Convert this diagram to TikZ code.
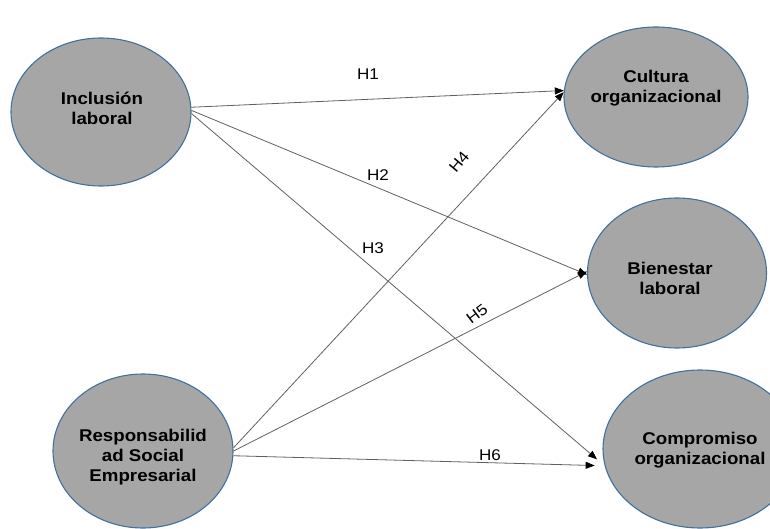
\documentclass[tikz,border=0pt]{standalone}
\usepackage{fontspec}
\setmainfont{Liberation Sans}[FakeStretch=1.1]
\usetikzlibrary{arrows.meta,shapes.geometric}
\definecolor{ovalfill}{HTML}{A6A6A6}
\definecolor{ovalline}{HTML}{41719C}
\definecolor{linkgray}{HTML}{606060}
\tikzset{
  construct/.style={ellipse, draw=ovalline, line width=1.1pt, fill=ovalfill, inner sep=0pt},
  ctext/.style={align=center, inner sep=0pt, font=\fontsize{17}{20}\selectfont\bfseries},
  link/.style={draw=linkgray, line width=0.8pt, -{Triangle[length=9pt,width=7pt,color=black]}},
  hyp/.style={font=\fontsize{15.5}{18}\selectfont, inner sep=0pt}
}
\begin{document}
\begin{tikzpicture}[x=1pt,y=-1pt]
\useasboundingbox (0,0) rectangle (770,529);
\node[construct, minimum width=180pt, minimum height=148pt] (inc) at (101,112) {};
\node[construct, minimum width=184pt, minimum height=140pt] (cul) at (656,97) {};
\node[construct, minimum width=179pt, minimum height=150pt] (bie) at (677,273) {};
\node[construct, minimum width=194pt, minimum height=158pt] (com) at (700,449) {};
\node[construct, minimum width=180pt, minimum height=154pt] (rse) at (143,451) {};

\node[ctext] (inct) at (102,108) {Inclusión\\laboral};
\node[ctext] (cult) at (656,88) {Cultura\\organizacional};
\node[ctext] (biet) at (670,278) {Bienestar\\laboral};
\node[ctext] (comt) at (700,450) {Compromiso\\organizacional};
\node[ctext] (rset) at (143,457) {Responsabilid\\ad Social\\Empresarial};

\draw[link] (inc.3) -- (cul.176);
\draw[link] (inc.1) -- (bie.181);
\draw[link, shorten >=10pt] (inc.-1) -- (com.190);
\draw[link] (rse.2) -- (cul.177);
\draw[link] (rse.0) -- (bie.179);
\draw[link, shorten >=10pt] (rse.-3) -- (com.190);

\node[hyp] (h1) at (368,74) {H1};
\node[hyp] (h2) at (378,175) {H2};
\node[hyp] (h3) at (373,248) {H3};
\node[hyp, rotate=50] (h4) at (459,162) {H4};
\node[hyp, rotate=37] (h5) at (477,314) {H5};
\node[hyp] (h6) at (490,455) {H6};
\end{tikzpicture}
\end{document}
